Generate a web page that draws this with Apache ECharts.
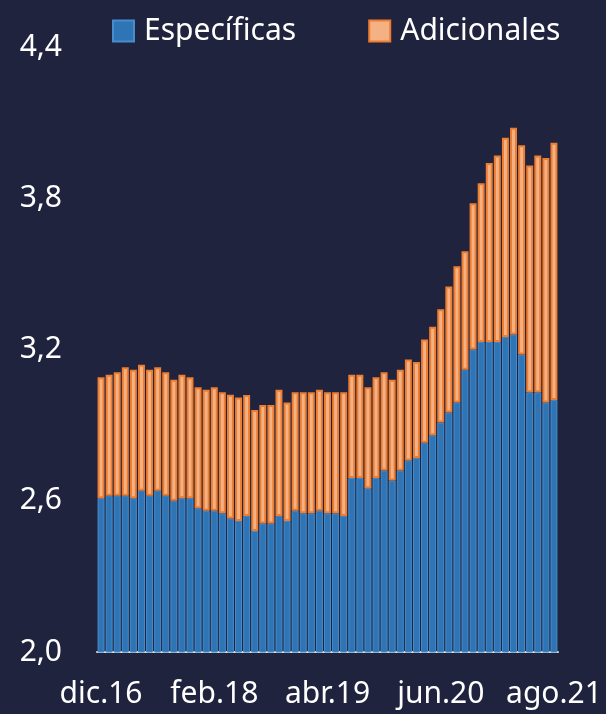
<!DOCTYPE html>
<html>
<head>
<meta charset="utf-8">
<script src="https://cdn.jsdelivr.net/npm/echarts@6/dist/echarts.min.js"></script>
<style>
html, body { margin: 0; padding: 0; background: #1f233d; }
#chart { width: 606px; height: 714px; }
</style>
</head>
<body>
<div id="chart"></div>
<script>
const categories = [
    'dic.16',
    'ene.17', 'feb.17', 'mar.17', 'abr.17', 'may.17', 'jun.17', 'jul.17', 'ago.17', 'sep.17', 'oct.17', 'nov.17', 'dic.17',
    'ene.18', 'feb.18', 'mar.18', 'abr.18', 'may.18', 'jun.18', 'jul.18', 'ago.18', 'sep.18', 'oct.18', 'nov.18', 'dic.18',
    'ene.19', 'feb.19', 'mar.19', 'abr.19', 'may.19', 'jun.19', 'jul.19', 'ago.19', 'sep.19', 'oct.19', 'nov.19', 'dic.19',
    'ene.20', 'feb.20', 'mar.20', 'abr.20', 'may.20', 'jun.20', 'jul.20', 'ago.20', 'sep.20', 'oct.20', 'nov.20', 'dic.20',
    'ene.21', 'feb.21', 'mar.21', 'abr.21', 'may.21', 'jun.21', 'jul.21', 'ago.21'
]

const especificas = [
    2.61, 2.62, 2.62, 2.62, 2.61, 2.64, 2.62, 2.64, 2.62, 2.60, 2.61, 2.61,
    2.57, 2.56, 2.56, 2.55, 2.53, 2.52, 2.54, 2.48, 2.51, 2.51, 2.54, 2.52,
    2.56, 2.55, 2.55, 2.56, 2.55, 2.55, 2.54, 2.69, 2.69, 2.65, 2.69, 2.72,
    2.68, 2.72, 2.76, 2.77, 2.83, 2.86, 2.91, 2.95, 2.99, 3.12, 3.20, 3.23,
    3.23, 3.23, 3.25, 3.26, 3.18, 3.03, 3.03, 2.99, 3.00
]

const adicionales = [
    0.48, 0.48, 0.49, 0.51, 0.51, 0.50, 0.50, 0.49, 0.49, 0.48, 0.49, 0.48,
    0.48, 0.48, 0.49, 0.48, 0.49, 0.49, 0.48, 0.48, 0.47, 0.47, 0.50, 0.47,
    0.47, 0.48, 0.48, 0.48, 0.48, 0.48, 0.49, 0.41, 0.41, 0.40, 0.40, 0.39,
    0.40, 0.40, 0.40, 0.38, 0.41, 0.43, 0.45, 0.50, 0.54, 0.47, 0.58, 0.63,
    0.71, 0.74, 0.79, 0.82, 0.83, 0.90, 0.94, 0.97, 1.02
]

const yTicks = [2.0, 2.6, 3.2, 3.8, 4.4]

const font = '"Noto Sans", "Open Sans", sans-serif'

const chart = echarts.init(document.getElementById('chart'))
chart.setOption({
    backgroundColor: '#1f233d',
    animation: false,
    legend: {
        top: 11,
        left: 107,
        itemWidth: 21,
        itemHeight: 21,
        itemGap: 72,
        icon: 'rect',
        textStyle: {
            color: '#ffffff',
            fontSize: 30,
            fontFamily: font,
            padding: [0, 0, 0, 5]
        },
        data: ['Específicas', 'Adicionales']
    },
    grid: {
        left: 97,
        right: 48,
        top: 47,
        bottom: 62
    },
    xAxis: {
        type: 'category',
        data: categories,
        axisLine: { lineStyle: { color: '#d9d9d9', width: 2 } },
        axisTick: { interval: 13, length: 13, lineStyle: { color: '#d9d9d9', width: 2 } },
        axisLabel: {
            interval: 13,
            color: '#ffffff',
            fontSize: 30,
            fontFamily: font,
            margin: 27
        }
    },
    yAxis: {
        type: 'value',
        min: yTicks[0],
        max: yTicks[yTicks.length - 1],
        interval: 0.6,
        splitLine: { show: false },
        axisLine: { show: false },
        axisTick: { show: false },
        axisLabel: {
            color: '#ffffff',
            fontSize: 30,
            fontFamily: font,
            margin: 35,
            formatter: (v) => v.toFixed(1).replace('.', ',')
        }
    },
    series: [
        {
            name: 'Específicas',
            type: 'bar',
            stack: 'total',
            barCategoryGap: '14%',
            itemStyle: { color: '#2e75b6', borderColor: '#4a8bcb', borderWidth: 1 },
            data: especificas
        },
        {
            name: 'Adicionales',
            type: 'bar',
            stack: 'total',
            barCategoryGap: '14%',
            itemStyle: { color: '#f4b183', borderColor: '#ed7d31', borderWidth: 2 },
            data: adicionales
        }
    ]
})
</script>
</body>
</html>
